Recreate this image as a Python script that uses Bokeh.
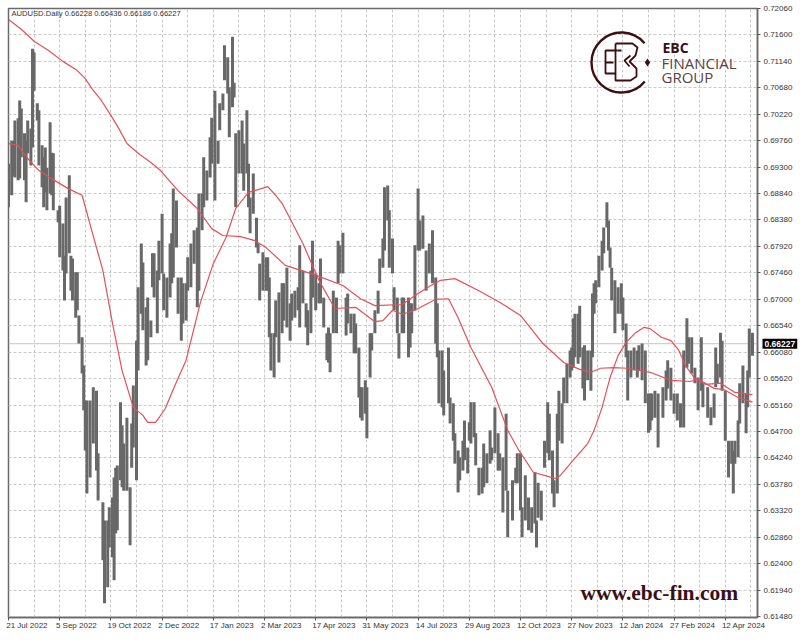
from bokeh.plotting import figure
from bokeh.models import Label, FixedTicker, NumeralTickFormatter, Range1d, LinearAxis
from bokeh.embed import file_html
from bokeh.resources import INLINE

SYMBOL_TEXT = "AUDUSD.Daily  0.66228 0.66436 0.66186 0.66227"
LAST_PRICE = 0.66227

date_ticks = [0, 32, 64, 96, 128, 160, 192, 224, 256, 288, 320, 352, 384, 416, 448]
date_labels = ["21 Jul 2022", "5 Sep 2022", "19 Oct 2022", "2 Dec 2022", "17 Jan 2023",
               "2 Mar 2023", "17 Apr 2023", "31 May 2023", "14 Jul 2023", "29 Aug 2023",
               "12 Oct 2023", "27 Nov 2023", "12 Jan 2024", "27 Feb 2024", "12 Apr 2024"]
price_ticks = [0.72060, 0.71600, 0.71140, 0.70680, 0.70220, 0.69760, 0.69300, 0.68840,
               0.68380, 0.67920, 0.67460, 0.67000, 0.66540, 0.66080, 0.65620, 0.65160,
               0.64700, 0.64240, 0.63780, 0.63320, 0.62860, 0.62400, 0.61940, 0.61480]
grid_days = list(range(0, 469, 16))

bar_no = [
 0, 2, 3, 4, 6, 7, 8, 10, 11, 12, 14, 15, 16, 18, 19, 21, 22, 23, 24, 26,
 27, 28, 31, 32, 34, 35, 36, 38, 39, 40, 42, 43, 44, 46, 47, 48, 49, 51, 53, 55,
 56, 59, 60, 62, 63, 65, 66, 67, 68, 70, 71, 72, 74, 76, 77, 78, 80, 81, 83, 84,
 86, 87, 89, 90, 91, 93, 94, 96, 97, 99, 101, 102, 103, 105, 106, 108, 109, 111, 112, 114,
 116, 118, 119, 121, 122, 124, 126, 127, 129, 131, 132, 134, 135, 137, 138, 140, 141, 142, 144, 146,
 147, 149, 150, 151, 153, 155, 156, 157, 159, 161, 162, 163, 164, 166, 167, 169, 171, 172, 174, 176,
 177, 179, 181, 182, 184, 186, 187, 189, 190, 192, 194, 195, 197, 199, 200, 201, 203, 205, 206, 207,
 209, 211, 212, 214, 216, 217, 219, 220, 221, 223, 224, 226, 227, 229, 231, 232, 234, 235, 237, 238,
 240, 241, 243, 244, 246, 247, 250, 251, 252, 254, 256, 257, 259, 261, 263, 265, 267, 268, 269, 271,
 272, 275, 276, 278, 279, 281, 282, 284, 285, 287, 288, 289, 291, 292, 294, 296, 297, 299, 301, 302,
 304, 306, 307, 309, 311, 312, 315, 317, 318, 320, 321, 323, 325, 327, 329, 330, 331, 333, 335, 337,
 338, 340, 341, 343, 344, 346, 347, 349, 351, 352, 353, 354, 356, 357, 359, 360, 362, 364, 365, 366,
 367, 369, 371, 372, 374, 375, 376, 377, 379, 381, 383, 384, 386, 387, 389, 391, 393, 394, 396, 398,
 400, 401, 402, 404, 406, 409, 411, 412, 414, 416, 418, 420, 422, 424, 425, 427, 429, 431, 433, 434,
 437, 439, 441, 442, 443, 445, 446, 448, 450, 452, 453, 454, 456, 457, 459, 461, 462, 463, 465]

bar_high = [
 .6936, .6976, .6976, .7011, .7015, .7046, .7032, .6989, .6976, .7011, .6997, .7136, .7130, .7041, .7029, .6968, .6947, .6964, .6929, .7008,
 .6955, .6954, .6855, .6863, .6832, .6776, .6877, .6916, .6776, .6771, .6747, .6747, .6672, .6634, .6585, .6524, .6524, .6524, .6547, .6541,
 .6432, .6347, .6315, .6315, .6338, .6355, .6390, .6407, .6411, .6521, .6481, .6449, .6494, .6373, .6484, .6550, .6628, .6721, .6797, .6764,
 .6686, .6703, .6663, .6780, .6780, .6750, .6802, .6849, .6745, .6738, .6797, .6815, .6893, .6872, .6738, .6738, .6728, .6728, .6773, .6797,
 .6820, .6825, .6884, .6884, .6947, .6924, .6982, .7016, .7063, .6976, .7041, .7058, .7142, .7121, .7069, .7157, .7077, .6989, .6994, .7011,
 .6971, .7029, .6936, .6877, .6919, .6842, .6797, .6762, .6782, .6773, .6773, .6738, .6641, .6641, .6698, .6712, .6728, .6728, .6755, .6693,
 .6710, .6715, .6721, .6794, .6750, .6693, .6681, .6750, .6802, .6745, .6728, .6771, .6703, .6641, .6651, .6641, .6715, .6703, .6802, .6794,
 .6816, .6703, .6710, .6675, .6675, .6658, .6616, .6547, .6547, .6559, .6547, .6641, .6641, .6681, .6715, .6771, .6806, .6895, .6898, .6855,
 .6806, .6721, .6703, .6641, .6703, .6703, .6703, .6693, .6693, .6794, .6893, .6837, .6846, .6785, .6797, .6820, .6738, .6693, .6611, .6611,
 .6576, .6616, .6529, .6519, .6467, .6437, .6425, .6454, .6489, .6442, .6486, .6521, .6521, .6467, .6407, .6407, .6449, .6432, .6472, .6442,
 .6512, .6467, .6432, .6425, .6501, .6367, .6385, .6407, .6432, .6432, .6338, .6394, .6355, .6338, .6399, .6315, .6381, .6367, .6454, .6521,
 .6501, .6437, .6385, .6501, .6541, .6519, .6564, .6588, .6611, .6616, .6667, .6675, .6675, .6689, .6616, .6620, .6611, .6611, .6710, .6728,
 .6733, .6776, .6802, .6825, .6869, .6837, .6790, .6755, .6733, .6721, .6728, .6703, .6658, .6611, .6611, .6616, .6611, .6620, .6623, .6611,
 .6536, .6536, .6536, .6541, .6536, .6547, .6576, .6594, .6581, .6536, .6536, .6519, .6611, .6667, .6634, .6634, .6581, .6564, .6634, .6554,
 .6547, .6512, .6536, .6616, .6588, .6642, .6628, .6541, .6454, .6454, .6437, .6454, .6489, .6554, .6585, .6536, .6576, .6649, .6642]

bar_low = [
 .6860, .6881, .6915, .6912, .6907, .6910, .6947, .6907, .6869, .6954, .6933, .6964, .7063, .7011, .6933, .6895, .6860, .6886, .6855, .6884,
 .6881, .6855, .6834, .6773, .6750, .6698, .6745, .6780, .6715, .6698, .6668, .6681, .6623, .6571, .6507, .6437, .6362, .6390, .6449, .6402,
 .6350, .6246, .6171, .6199, .6268, .6251, .6211, .6293, .6298, .6385, .6373, .6367, .6367, .6272, .6407, .6442, .6385, .6576, .6675, .6646,
 .6585, .6594, .6634, .6721, .6703, .6641, .6733, .6745, .6681, .6668, .6703, .6728, .6738, .6790, .6675, .6628, .6658, .6663, .6715, .6721,
 .6762, .6686, .6715, .6820, .6860, .6872, .6912, .6936, .6872, .6936, .6994, .7029, .7081, .7058, .6982, .7034, .7051, .6860, .6919, .6919,
 .6889, .6919, .6860, .6815, .6849, .6790, .6780, .6698, .6715, .6715, .6715, .6634, .6576, .6564, .6634, .6590, .6641, .6663, .6651, .6628,
 .6663, .6668, .6681, .6651, .6693, .6651, .6620, .6641, .6703, .6681, .6693, .6693, .6651, .6594, .6590, .6573, .6641, .6641, .6728, .6745,
 .6745, .6637, .6658, .6641, .6606, .6606, .6529, .6494, .6489, .6501, .6458, .6564, .6611, .6641, .6675, .6728, .6755, .6785, .6837, .6755,
 .6745, .6681, .6641, .6597, .6641, .6641, .6599, .6616, .6641, .6681, .6785, .6785, .6788, .6715, .6745, .6728, .6623, .6599, .6519, .6512,
 .6498, .6519, .6484, .6454, .6414, .6364, .6385, .6402, .6420, .6397, .6454, .6449, .6460, .6411, .6359, .6362, .6373, .6380, .6414, .6420,
 .6432, .6402, .6402, .6329, .6367, .6286, .6315, .6380, .6380, .6333, .6286, .6315, .6298, .6294, .6310, .6268, .6320, .6315, .6407, .6432,
 .6420, .6362, .6338, .6362, .6454, .6449, .6519, .6519, .6564, .6576, .6581, .6599, .6588, .6599, .6545, .6524, .6559, .6541, .6599, .6675,
 .6693, .6721, .6750, .6780, .6825, .6785, .6755, .6698, .6641, .6675, .6675, .6646, .6599, .6524, .6564, .6576, .6564, .6576, .6559, .6519,
 .6468, .6472, .6489, .6494, .6442, .6494, .6524, .6545, .6524, .6501, .6489, .6477, .6477, .6581, .6588, .6571, .6554, .6507, .6541, .6512,
 .6494, .6481, .6494, .6547, .6554, .6564, .6541, .6454, .6390, .6414, .6362, .6414, .6425, .6484, .6519, .6467, .6512, .6564, .6602]

slow_ma_bar = [0, 8, 16, 25, 34, 43, 48, 52, 58, 64, 69, 74, 82, 89, 95, 106, 118, 127, 134, 145,
               154, 161, 173, 192, 209, 220, 229, 246, 256, 264, 270, 279, 294, 308, 320, 334, 347, 357, 364, 370,
               378, 387, 401, 414, 426, 431, 441, 447, 456, 465]
slow_ma = [.7187, .7170, .7149, .7133, .7114, .7098, .7084, .7067, .7046, .7020, .6997, .6971, .6952, .6938, .6924, .6889, .6858, .6823, .6811, .6809,
           .6802, .6790, .6759, .6742, .6724, .6701, .6689, .6691, .6710, .6724, .6733, .6736, .6715, .6693, .6672, .6623, .6590, .6578, .6573, .6580,
           .6581, .6580, .6573, .6559, .6557, .6561, .6545, .6543, .6529, .6521]
fast_ma_bar = [0, 6, 12, 19, 27, 37, 46, 52, 59, 65, 71, 78, 84, 87, 92, 98, 104, 111, 120, 128,
               136, 142, 150, 162, 167, 171, 184, 194, 204, 217, 229, 234, 240, 246, 254, 267, 275, 281, 289, 302,
               312, 319, 328, 342, 345, 353, 362, 366, 371, 376, 381, 386, 392, 397, 401, 408, 414, 419, 423, 429,
               436, 445, 454, 465]
fast_ma = [.6971, .6968, .6945, .6924, .6910, .6893, .6881, .6820, .6750, .6658, .6576, .6512, .6498, .6486, .6486, .6510, .6550, .6594, .6695, .6762,
           .6808, .6858, .6886, .6896, .6881, .6867, .6797, .6733, .6684, .6686, .6661, .6663, .6681, .6674, .6681, .6700, .6701, .6668, .6616, .6547,
           .6472, .6437, .6399, .6388, .6394, .6420, .6449, .6472, .6512, .6564, .6602, .6625, .6642, .6651, .6649, .6634, .6628, .6611, .6585, .6562,
           .6552, .6554, .6538, .6534]

BAR_COLOR = "#686868"
MA_COLOR = "#e4505a"
GRID_COLOR = "#c9c9c9"
TEXT_COLOR = "#333333"
LOGO_COLOR = "#3a1014"

# pixel position on the page -> data coordinates (decoration only)
def dx(px):
    return (px - 8) * 0.625
def dy(py):
    return 0.7206 - (py - 8) * 0.000174

p = figure(frame_width=749, frame_height=609, output_backend="svg", toolbar_location=None,
           x_range=Range1d(dx(8), dx(757)), y_range=Range1d(dy(617), dy(8)),
           y_axis_location="right", min_border_left=8, min_border_top=8, min_border_right=0,
           min_border_bottom=0, background_fill_color="white", border_fill_color="white",
           outline_line_color="#6a6a6a", outline_line_width=1.5)

p.xaxis.ticker = FixedTicker(ticks=date_ticks)
p.xaxis.major_label_text_color = None
p.xaxis.major_label_text_font_size = "1px"
p.xaxis.major_label_standoff = 0
p.yaxis.ticker = FixedTicker(ticks=price_ticks)
p.yaxis.formatter = NumeralTickFormatter(format="0.00000")
p.yaxis.major_label_text_font = "Liberation Sans"
p.yaxis.major_label_text_font_size = "8px"
p.yaxis.major_label_text_color = TEXT_COLOR
p.yaxis.major_label_standoff = 3
for ax in (p.xaxis[0], p.yaxis[0]):
    ax.major_tick_line_color = "#555555"
    ax.major_tick_out = 3
    ax.major_tick_in = 0
    ax.minor_tick_line_color = None
    ax.axis_line_color = "#6a6a6a"
    ax.axis_line_width = 1.5

# date labels start at their tick, so this axis carries them half a label to the right
label_ticks = [t + 1.1 * len(s) - 0.6 for t, s in zip(date_ticks, date_labels)]
date_axis = LinearAxis(ticker=FixedTicker(ticks=label_ticks),
                       major_label_overrides=dict(zip(label_ticks, date_labels)),
                       major_label_text_font="Liberation Sans", major_label_text_font_size="8px",
                       major_label_text_color=TEXT_COLOR, major_label_standoff=-6,
                       major_tick_line_color=None, minor_tick_line_color=None, axis_line_color=None)
p.add_layout(date_axis, "below")

p.xgrid.ticker = FixedTicker(ticks=grid_days)
p.ygrid.ticker = FixedTicker(ticks=price_ticks)
for g in (p.xgrid[0], p.ygrid[0]):
    g.grid_line_color = GRID_COLOR
    g.grid_line_dash = "3 2"
    g.grid_line_width = 1

p.line([dx(8), dx(757)], [LAST_PRICE, LAST_PRICE], line_color="#c4c4c4", line_width=1)
p.segment(x0=bar_no, y0=bar_low, x1=bar_no, y1=bar_high, line_color=BAR_COLOR, line_width=3)
p.line(slow_ma_bar, slow_ma, line_color=MA_COLOR, line_width=1.2)
p.line(fast_ma_bar, fast_ma, line_color=MA_COLOR, line_width=1.2)

# logo
p.arc(x=[dx(621)], y=[dy(62)], radius=30, radius_units="screen", start_angle=0.7, end_angle=5.6,
      line_color=LOGO_COLOR, line_width=2.4)
p.multi_line(
    [[dx(617), dx(605), dx(605), dx(615)], [dx(605), dx(613)], [dx(615), dx(632), dx(637), dx(635), dx(629), dx(636), dx(636), dx(630), dx(615), dx(615)],
     [dx(617), dx(621)], [dx(630), dx(624), dx(629)]],
    [[dy(50), dy(50), dy(73), dy(73)], [dy(62), dy(62)], [dy(43), dy(43), dy(47), dy(55), dy(61), dy(68), dy(76), dy(80), dy(80), dy(43)],
     [dy(50), dy(50)], [dy(55), dy(60), dy(66)]],
    line_color=LOGO_COLOR, line_width=1.8)
p.scatter([dx(647)], [dy(62)], marker="diamond", size=8, fill_color=LOGO_COLOR, line_color=None)

def add_text(text, px, py, size, color, font="Liberation Sans", style="normal", **kw):
    p.add_layout(Label(x=dx(px), y=dy(py), text=text, text_font=font, text_font_size=size,
                       text_color=color, text_font_style=style, text_baseline="middle", **kw))

add_text(SYMBOL_TEXT, 11, 13, "7.6px", "#333333")
add_text("EBC", 662, 47, "14px", LOGO_COLOR, font="Open Sans", style="bold")
add_text("FINANCIAL", 661, 62, "15px", "#5a4245", font="Open Sans")
add_text("GROUP", 661, 76, "15px", "#5a4245", font="Open Sans")
add_text("www.ebc-fin.com", 580, 592, "21.5px", LOGO_COLOR, font="Liberation Serif", style="bold")
p.add_layout(Label(x=dx(762), y=LAST_PRICE, text="0.66227", text_font="Liberation Sans", text_font_size="8.5px",
                   text_color="white", text_font_style="bold", text_baseline="middle",
                   background_fill_color="black", padding=2), "right")

open("out.html", "w").write(file_html(p, INLINE))
